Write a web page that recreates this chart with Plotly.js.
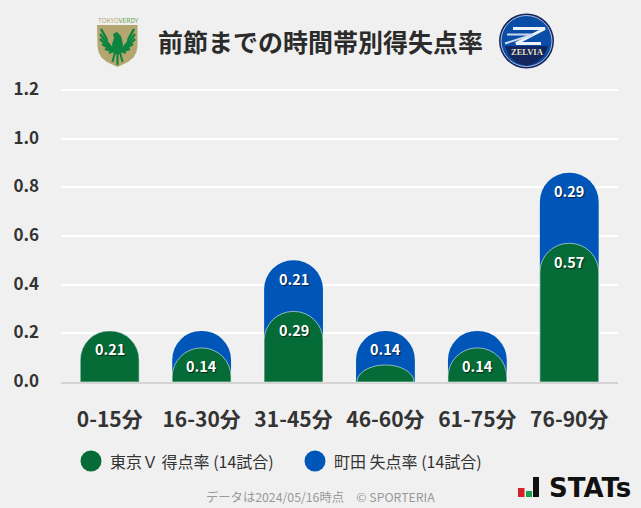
<!DOCTYPE html>
<html>
<head>
<meta charset="utf-8">
<script src="https://cdn.plot.ly/plotly-3.0.1.min.js"></script>
<style>
  html, body { margin: 0; padding: 0; background: #f0f0f0; overflow: hidden; }
  #plot { width: 641px; height: 508px; }
</style>
</head>
<body>
<div id="plot"></div>
<script>
const categories = ['0-15分', '16-30分', '31-45分', '46-60分', '61-75分', '76-90分'];
const scored = [0.21, 0.14, 0.29, 0.07, 0.14, 0.57];
const conceded = [0, 0.07, 0.21, 0.14, 0.07, 0.29];
const scoredLabels = ['0.21', '0.14', '0.29', '', '0.14', '0.57'];
const concededLabels = ['', '', '0.21', '0.14', '', '0.29'];
const yTicks = [0, 0.2, 0.4, 0.6, 0.8, 1.0, 1.2];

const GREEN = '#056b37';
const BLUE = '#0056b8';
const SHIELD = '#b5a56f';
const OUTLINE = 'rgba(255,255,255,0.55)';
const FONT = '"Noto Sans CJK JP", "Noto Sans", sans-serif';

// blue sits behind the green one, so its bar runs from zero up to the stacked total
const totals = scored.map((v, i) => v + conceded[i]);

// plotly squeezes the corner radius on very short bars, those get an arc shape instead
const SHORT_BAR = 0.1;
const isShort = scored.map(v => v < SHORT_BAR);

const traceConceded = {
  type: 'bar', x: categories, y: totals, width: 0.64, xaxis: 'x', yaxis: 'y',
  marker: { color: BLUE, line: { width: 0 } }, hoverinfo: 'skip'
};
// second overlaid y axis, otherwise plotly only rounds the tallest bar of each slot
const traceScored = {
  type: 'bar', x: categories, y: scored, width: 0.64, xaxis: 'x', yaxis: 'y2',
  marker: {
    color: isShort.map(s => s ? 'rgba(0,0,0,0)' : GREEN),
    line: { width: 1, color: isShort.map(s => s ? 'rgba(0,0,0,0)' : OUTLINE) }
  },
  hoverinfo: 'skip'
};

const valueLabel = (cat, y, text) => ({
  x: cat, y: y, text: text, showarrow: false, yanchor: 'middle', yshift: -18,
  font: { family: FONT, size: 14.5, weight: 700, color: '#fff', shadow: '1px 1px 1px rgba(0,0,0,0.6)' }
});

const annotations = [];
categories.forEach((cat, i) => {
  if (scoredLabels[i]) annotations.push(valueLabel(cat, scored[i], scoredLabels[i]));
  if (concededLabels[i]) annotations.push(valueLabel(cat, totals[i], concededLabels[i]));
});

// page furniture is placed in paper coordinates, measured in pixels from the top left
const W = 641, H = 508;
// top margin and range run a little past 1.2, plotly drops a gridline sitting on the range edge
const margin = { l: 61, r: 23, t: 88, b: 126 };
const yRange = [0, 1.2082];
const xRange = [-0.53, 5.53];
const plotW = W - margin.l - margin.r, plotH = H - margin.t - margin.b;
const toPaperX = x => (x - margin.l) / plotW;
const toPaperY = y => (H - margin.b - y) / plotH;

const note = (x, y, text, size, color, extra) => Object.assign({
  xref: 'paper', yref: 'paper', x: toPaperX(x), y: toPaperY(y), text: text, showarrow: false,
  xanchor: 'left', yanchor: 'middle',
  font: { family: FONT, size: size, color: color }
}, extra || {});

annotations.push(
  note(156, 41, '<b>前節までの時間帯別得失点率</b>', 25, '#2b2b2b'),
  note(108, 461, '東京Ｖ 得点率 (14試合)', 16, '#333'),
  note(332, 461, '町田 失点率 (14試合)', 16, '#333'),
  note(204, 497, 'データは2024/05/16時点　© SPORTERIA', 12.3, '#999'),
  note(96, 20, 'TOKYO<span style="color:#6f9f4e">VERDY</span>', 6.5, '#b9a877'),
  note(547, 488, '<b>STATs</b>', 26, '#111', { font: { family: '"DejaVu Sans", sans-serif', size: 26, color: '#111', weight: 700 } }),
  note(527, 52.5, '<b>ZELVIA</b>', 8.5, '#e9e2c0', { xanchor: 'center', font: { family: '"Liberation Serif", serif', size: 8.5, color: '#e9e2c0', weight: 700 } })
);

const circle = (cx, cy, r, fill, line) => ({
  type: 'circle', xref: 'paper', yref: 'paper', layer: 'above',
  x0: toPaperX(cx - r), x1: toPaperX(cx + r),
  y0: toPaperY(cy + r), y1: toPaperY(cy - r),
  fillcolor: fill, line: line || { width: 0 }
});
const rect = (x0, y0, x1, y1, fill) => ({
  type: 'rect', xref: 'paper', yref: 'paper', layer: 'above',
  x0: toPaperX(x0), x1: toPaperX(x1), y0: toPaperY(y1), y1: toPaperY(y0),
  fillcolor: fill, line: { width: 0 }
});
const toPath = pts => pts.map((p, i) => (i ? 'L' : 'M') + toPaperX(p[0]) + ',' + toPaperY(p[1])).join(' ');
const poly = (pts, fill) => ({
  type: 'path', xref: 'paper', yref: 'paper', layer: 'above',
  path: toPath(pts) + ' Z', fillcolor: fill, line: { width: 0 }
});
const stroke = (pts, color, width) => ({
  type: 'path', xref: 'paper', yref: 'paper', layer: 'above',
  path: toPath(pts), fillcolor: 'rgba(0,0,0,0)', line: { color: color, width: width }
});

// dome for a short green bar, its height comes from the bar's value
const domes = [];
scored.forEach((v, i) => {
  if (!isShort[i]) return;
  const cx = margin.l + (i - xRange[0]) * plotW / (xRange[1] - xRange[0]);
  const baseY = H - margin.b;
  const barH = v / yRange[1] * plotH;
  const pts = [];
  for (let a = 0; a <= 180; a += 10) {
    const t = a * Math.PI / 180;
    pts.push([cx - 28.5 * Math.cos(t), baseY - barH * Math.sin(t)]);
  }
  domes.push(Object.assign(poly(pts, GREEN), { line: { color: OUTLINE, width: 1 } }));
});

// eagle feathers fan out from the body, mirrored around the crest centre
const EAGLE = '#0d8540';
const crestX = 117.5;
const featherTips = [[101, 29], [100, 34], [100, 39], [102, 44], [105, 49], [109, 53]];
const feathers = [];
featherTips.forEach(t => {
  feathers.push(stroke([[crestX - 4, 51], t], EAGLE, 2.4));
  feathers.push(stroke([[crestX + 4, 51], [2 * crestX - t[0], t[1]]], EAGLE, 2.4));
});

const shapes = [
  ...domes,
  // legend dots
  circle(91, 461, 10.5, GREEN),
  circle(315, 461, 10.5, BLUE),
  // Verdy crest
  poly([[97, 25], [137.5, 25], [137.5, 46], [136.5, 52], [133.5, 57.5], [128, 62], [117.5, 67], [107, 62], [101.5, 57.5], [98.5, 52], [97.5, 46]], SHIELD),
  ...feathers,
  stroke([[108, 30], [109, 41], [113, 46]], SHIELD, 2),
  stroke([[127, 30], [126, 41], [122, 46]], SHIELD, 2),
  poly([[113, 34], [117, 32], [121, 36], [123, 44], [122, 52], [120, 54], [115, 54], [113, 52], [112, 44], [114, 38]], EAGLE),
  stroke([[117.5, 52], [117.5, 65]], EAGLE, 2.2),
  stroke([[115, 52], [112.5, 62]], EAGLE, 2),
  stroke([[120, 52], [122.5, 62]], EAGLE, 2),
  // Zelvia badge
  circle(526.5, 41, 27.5, '#14265e'),
  circle(526.5, 41, 25.5, '#0a4da6', { color: '#d8e0ee', width: 0.8 }),
  poly([[505, 46], [548, 46], [544, 56], [536, 63], [526.5, 66], [517, 63], [509, 56]], '#14265e'),
  stroke([[513, 28.5], [545, 28.5], [516, 43.5], [541, 43.5]], '#eef2f9', 3),
  stroke([[507, 34.5], [533, 34.5], [505, 43.5]], '#cbd9ee', 2),
  // STATs mark
  rect(518, 488, 524.5, 497, '#d32029'),
  rect(526, 491, 532, 497, '#17a34a'),
  rect(533, 477, 539, 497, '#111')
];

const layout = {
  width: W, height: H,
  margin: margin,
  paper_bgcolor: '#f0f0f0', plot_bgcolor: '#f0f0f0',
  barmode: 'overlay',
  barcornerradius: 29,
  showlegend: false,
  xaxis: {
    type: 'category', categoryarray: categories, range: xRange, fixedrange: true,
    showgrid: false, zeroline: false, showline: true, linecolor: '#d4d4d4', linewidth: 2,
    ticks: '', ticklabelstandoff: 18,
    tickfont: { family: FONT, size: 21, weight: 700, color: '#333' }
  },
  yaxis: {
    range: yRange, tickvals: yTicks, ticktext: yTicks.map(v => v.toFixed(1)), fixedrange: true,
    showgrid: true, gridcolor: '#ffffff', gridwidth: 2, zeroline: false, showline: false,
    ticks: '', ticklabelstandoff: 21, ticklabelshift: -1,
    tickfont: { family: FONT, size: 17, weight: 700, color: '#333' }
  },
  yaxis2: { range: yRange, overlaying: 'y', visible: false, fixedrange: true },
  annotations: annotations,
  shapes: shapes
};

Plotly.newPlot('plot', [traceConceded, traceScored], layout, { displayModeBar: false, staticPlot: true });
</script>
</body>
</html>
